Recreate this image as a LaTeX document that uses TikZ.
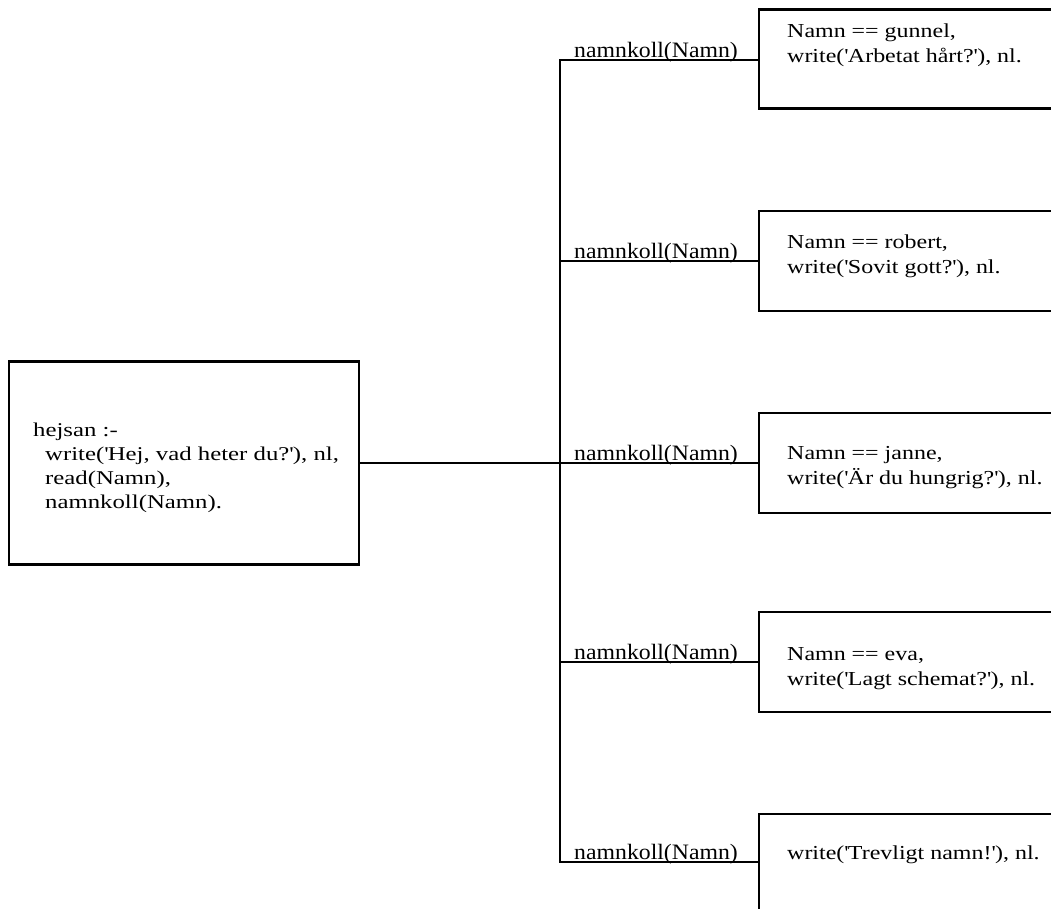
\documentclass[tikz,border=0pt]{standalone}
\usepackage{fontspec}
\setmainfont{Liberation Serif}
\newfontfamily\boxfont[FakeStretch=1.27]{Liberation Serif}
\newfontfamily\rboxfont[FakeStretch=1.21]{Liberation Serif}
\newfontfamily\labfont[FakeStretch=1.08]{Liberation Serif}
\newcommand{\sq}{\textquotesingle}
\tikzset{
  frame/.style={draw, line width=2.4pt, inner sep=0pt},
  conn/.style={line width=2.4pt},
  btext/.style={anchor=base west, inner sep=0pt, align=left,
    font=\rboxfont\fontsize{19.8}{25}\selectfont},
  lab/.style={anchor=base west, inner sep=0pt,
    font=\labfont\fontsize{22}{26}\selectfont}
}
\begin{document}
\begin{tikzpicture}[x=1pt,y=-1pt]
\useasboundingbox (0,0) rectangle (1051,908);
\clip (0,0) rectangle (1051,908);
\fill[white] (0,0) rectangle (1051,908);

% main box
\node[frame, anchor=west, minimum width=350pt, minimum height=203pt] (main) at (8,463) {};
\node[btext, font=\boxfont\fontsize{19.5}{23.7}\selectfont] (maint) at (33,508) {hejsan :-\\\hspace*{12pt}write(\sq Hej, vad heter du?\sq), nl,\\\hspace*{12pt}read(Namn),\\\hspace*{12pt}namnkoll(Namn).};

% right boxes
\node[frame, anchor=west, minimum width=360pt, minimum height=99pt] (b1) at (758,59) {};
\node[frame, anchor=west, minimum width=360pt, minimum height=100pt] (b2) at (758,261) {};
\node[frame, anchor=west, minimum width=360pt, minimum height=100pt] (b3) at (758,463) {};
\node[frame, anchor=west, minimum width=360pt, minimum height=100pt] (b4) at (758,662) {};
\node[frame, anchor=north west, minimum width=360pt, minimum height=150pt] (b5) at (758,813) {};

\node[btext] (b1t) at (787,62) {Namn == gunnel,\\write(\sq Arbetat hårt?\sq), nl.};
\node[btext] (b2t) at (787,273) {Namn == robert,\\write(\sq Sovit gott?\sq), nl.};
\node[btext] (b3t) at (787,484) {Namn == janne,\\write(\sq Är du hungrig?\sq), nl.};
\node[btext] (b4t) at (787,685) {Namn == eva,\\write(\sq Lagt schemat?\sq), nl.};
\node[btext] (b5t) at (787,859) {write(\sq Trevligt namn!\sq), nl.};

% trunk coordinates
\coordinate (t1) at (560,60);
\coordinate (t2) at (560,261);
\coordinate (t3) at (560,463);
\coordinate (t4) at (560,662);
\coordinate (t5) at (560,862);

% connectors
\draw[conn] (main.east) -- (b3.west);
\draw[conn] (b1.west |- t1) -- (t1) -- (t5) -- (b5.west |- t5);
\draw[conn] (t2) -- (b2.west);
\draw[conn] (t4) -- (b4.west);

% labels
\node[lab] (l1) at (574,57) {namnkoll(Namn)};
\node[lab] (l2) at (574,258) {namnkoll(Namn)};
\node[lab] (l3) at (574,460) {namnkoll(Namn)};
\node[lab] (l4) at (574,659) {namnkoll(Namn)};
\node[lab] (l5) at (574,859) {namnkoll(Namn)};
\end{tikzpicture}
\end{document}
